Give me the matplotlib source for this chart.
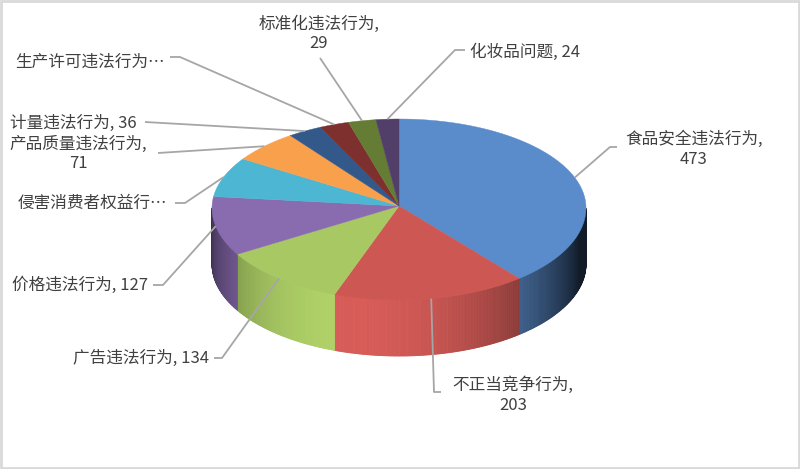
import numpy as np
import matplotlib
matplotlib.use("Agg")
import matplotlib.pyplot as plt
from matplotlib.patches import Polygon, Rectangle
from matplotlib.collections import PolyCollection
from matplotlib.colors import to_rgb

plt.rcParams["font.family"] = ["Noto Sans CJK SC", "DejaVu Sans"]

# ── data ────────────────────────────────────────────────────────────────
categories = ["食品安全违法行为", "不正当竞争行为", "广告违法行为", "价格违法行为",
              "侵害消费者权益行为", "产品质量违法行为", "计量违法行为",
              "生产许可违法行为", "标准化违法行为", "化妆品问题"]
values = [473, 203, 134, 127, 88, 71, 36, 31, 29, 24]

# ── style / layout ──────────────────────────────────────────────────────
top_colors = ["#5A8BCB", "#CD5753", "#A7C862", "#896BB0", "#4DB6D2",
              "#F9A04D", "#33598A", "#7E302E", "#647C33", "#523F69"]
# label mode: inline "name, value" / wrap "name,\nvalue" / trunc "name…"
label_modes = ["wrap", "wrap", "inline", "inline", "trunc",
               "wrap", "inline", "trunc", "wrap", "inline"]
# text anchor (x, y, ha) and leader elbow points, in pixel coords
label_pos = [(694, 149, "center"), (513, 395, "center"), (209, 358, "right"),
             (148, 285, "right"), (167, 203, "right"), (78, 154, "center"),
             (137, 123, "right"), (165, 62, "right"), (319, 34, "center"),
             (470, 52, "left")]
leader_pts = [[(610, 147), (617, 147)], [(434, 392), (441, 392)],
              [(222, 358), (214, 358)], [(163, 285), (153, 285)],
              [(185, 203), (175, 203)], [(158, 153)], [(145, 122)],
              [(180, 57), (170, 57)], [(320, 58)], [(455, 50), (465, 50)]]

W, H = 800, 469
cx, cy = 399, 208
rx, ry_back, ry_front = 187, 89, 92
depth = 56
TEXT = "#404040"
LEADER = "#A6A6A6"


def rim(t):
    t = np.radians(t)
    s = np.sin(t)
    ry = np.where(s >= 0, ry_back, ry_front)
    return cx + rx * np.cos(t), cy - ry * s


def shade(t):
    # lighting on the side wall: bright front-left, dark at the far right
    c = np.cos(np.radians(t - 255))
    return 0.2 + 0.85 * max(c, 0.0)


fig = plt.figure(figsize=(W / 100, H / 100), dpi=100, facecolor="white")
ax = fig.add_axes([0, 0, 1, 1])
ax.set_xlim(0, W)
ax.set_ylim(H, 0)
ax.axis("off")

total = float(sum(values))
spans = [360.0 * v / total for v in values]
starts = 90 - np.concatenate([[0], np.cumsum(spans)[:-1]])
ends = starts - np.array(spans)

# side walls
for i in range(len(values)):
    base = np.array(to_rgb(top_colors[i]))
    ts = np.linspace(ends[i], starts[i], int(abs(spans[i]) * 2) + 2)
    polys, cols = [], []
    for a, b in zip(ts[:-1], ts[1:]):
        m = 0.5 * (a + b)
        if np.sin(np.radians(m)) >= 0:
            continue
        xa, ya = rim(a)
        xb, yb = rim(b)
        polys.append([(xa, ya), (xb, yb), (xb, yb + depth), (xa, ya + depth)])
        cols.append(np.clip(base * shade(m), 0, 1))
    if polys:
        ax.add_collection(PolyCollection(polys, facecolors=cols, edgecolors=cols,
                                         linewidths=0.6, zorder=1))

# top faces
for i in range(len(values)):
    ts = np.linspace(starts[i], ends[i], 200)
    xs, ys = rim(ts)
    pts = [(cx, cy - 2)] + list(zip(xs, ys))
    ax.add_patch(Polygon(pts, closed=True, facecolor=top_colors[i],
                         edgecolor=top_colors[i], lw=0.3, zorder=2))

# leader lines and labels
for i, (cat, val) in enumerate(zip(categories, values)):
    mid = 0.5 * (starts[i] + ends[i])
    ax_, ay_ = rim(mid)
    path = [(float(ax_), float(ay_))] + leader_pts[i]
    px, py = zip(*path)
    ax.plot(px, py, color=LEADER, lw=1.3, zorder=3, solid_capstyle="butt")

    tx, ty, ha = label_pos[i]
    mode = label_modes[i]
    if mode == "wrap":
        ax.text(tx, ty - 10, f"{cat},", ha=ha, va="center", fontsize=12,
                color=TEXT, zorder=4)
        ax.text(tx, ty + 10, f"{val}", ha=ha, va="center", fontsize=12,
                color=TEXT, zorder=4)
    elif mode == "trunc":
        ax.text(tx, ty, cat[:8] + "…", ha=ha, va="center", fontsize=12,
                color=TEXT, zorder=4)
    else:
        ax.text(tx, ty, f"{cat}, {val}", ha=ha, va="center", fontsize=12,
                color=TEXT, zorder=4)

# chart-area frame
ax.add_patch(Rectangle((1, 1), W - 2, H - 2, fill=False, edgecolor="#D9D9D9",
                       lw=2, zorder=5))

fig.savefig("out.png", dpi=100, facecolor="white")
